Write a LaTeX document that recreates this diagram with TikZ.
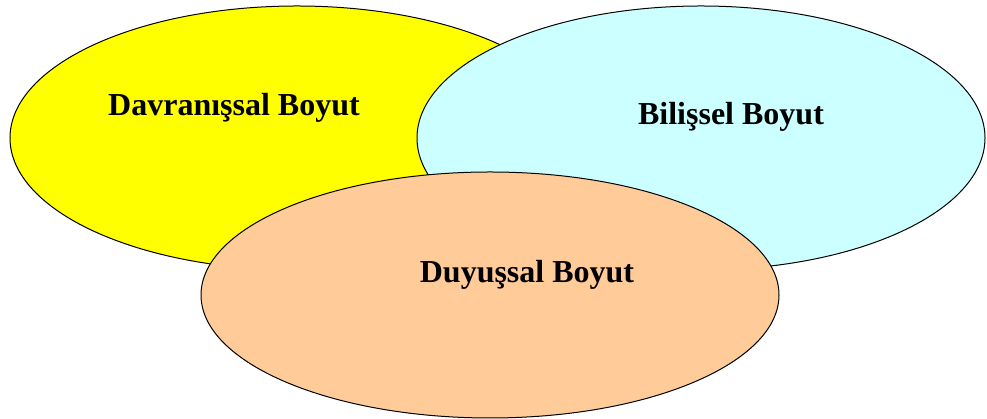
\documentclass[tikz,border=0pt]{standalone}
\usepackage{fontspec}
\setmainfont{Liberation Serif}
\usepackage{tikz}
\usetikzlibrary{shapes.geometric}
\definecolor{yellowish}{HTML}{FFFF00}
\definecolor{cyanish}{HTML}{CCFFFF}
\definecolor{orangish}{HTML}{FFCC99}

\begin{document}
\begin{tikzpicture}[x=1pt,y=1pt]
            \tikzstyle{blob}=[ellipse,draw=black,line width=1pt,inner sep=0pt]
            \tikzstyle{boyut}=[font=\bfseries\fontsize{32}{36}\selectfont,inner sep=0pt]
            \useasboundingbox (0,0) rectangle (987,419);
            \foreach \name/\col/\x/\y/\w/\h in {D/yellowish/297/281/574/264, B/cyanish/701/281/568/264, A/orangish/490/124/578/246}
                    \node[blob,fill=\col,minimum width=\w pt,minimum height=\h pt] (E-\name) at (\x,\y) {};

            \node[boyut] (T-D) at (234,311) {Davranışsal Boyut};
            \node[boyut] (T-B) at (731,302) {Bilişsel Boyut};
            \node[boyut] (T-A) at (527,144) {Duyuşsal Boyut};
        \end{tikzpicture}
\end{document}
